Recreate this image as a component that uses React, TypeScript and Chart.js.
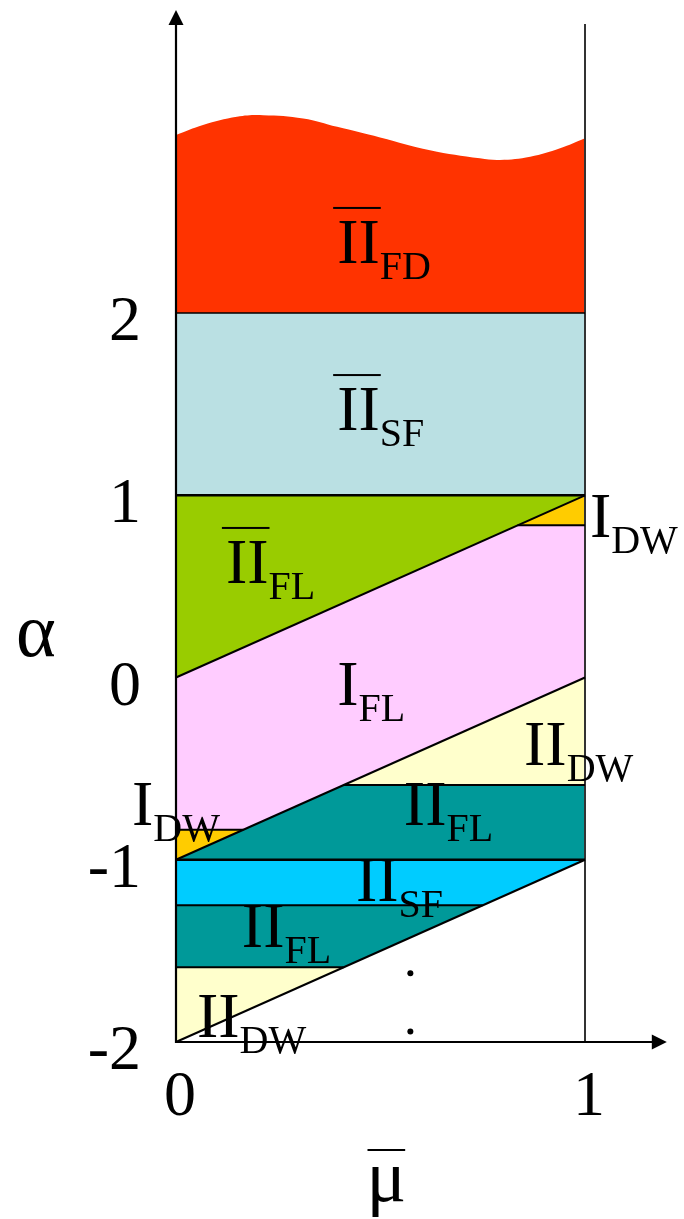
import { useEffect, useRef } from "react";
import { Chart, registerables } from "chart.js";

Chart.register(...registerables);

const W = 684;
const H = 1219;

// Axis ranges
const MU_MIN = 0;
const MU_MAX = 1.2;
const ALPHA_MIN = -2;
const ALPHA_MAX = 3.663;

// Tick labels
const ALPHA_TICKS = [-2, -1, 0, 1, 2];
const MU_TICKS = [0, 1];

// Upper (wavy) edge of the FD phase
const FD_WAVE_MU = [0, 0.066, 0.149, 0.213, 0.311, 0.394, 0.499, 0.621, 0.743, 0.792, 0.866, 0.939, 1];
const FD_WAVE_ALPHA = [2.977, 3.032, 3.077, 3.086, 3.068, 3.022, 2.964, 2.894, 2.849, 2.84, 2.858, 2.904, 2.959];

// Phase boundaries
const A_TOP_DW = 0.835;
const A_BOT_DW = -0.835;
const A_DW2 = -0.59;
const A_SF2 = -1.25;
const A_FL2 = -1.59;

// Region polygons (μ̄ values, α values)
const SF_BAR_MU = [0, 1, 1, 0];
const SF_BAR_ALPHA = [1, 1, 2, 2];
const FL_BAR_MU = [0, 1, 0];
const FL_BAR_ALPHA = [0, 1, 1];
const DW1_TOP_MU = [A_TOP_DW, 1, 1];
const DW1_TOP_ALPHA = [A_TOP_DW, A_TOP_DW, 1];
const FL1_MU = [0, A_TOP_DW, 1, 1, A_BOT_DW + 1, 0];
const FL1_ALPHA = [0, A_TOP_DW, A_TOP_DW, 0, A_BOT_DW, A_BOT_DW];
const DW1_BOT_MU = [0, A_BOT_DW + 1, 0];
const DW1_BOT_ALPHA = [-1, A_BOT_DW, A_BOT_DW];
const DW2_TOP_MU = [A_DW2 + 1, 1, 1];
const DW2_TOP_ALPHA = [A_DW2, 0, A_DW2];
const FL2_TOP_MU = [0, A_DW2 + 1, 1, 1];
const FL2_TOP_ALPHA = [-1, A_DW2, A_DW2, -1];
const SF2_MU = [0, 1, A_SF2 + 2, 0];
const SF2_ALPHA = [-1, -1, A_SF2, A_SF2];
const FL2_BOT_MU = [0, A_SF2 + 2, A_FL2 + 2, 0];
const FL2_BOT_ALPHA = [A_SF2, A_SF2, A_FL2, A_FL2];
const DW2_BOT_MU = [0, A_FL2 + 2, 0];
const DW2_BOT_ALPHA = [A_FL2, A_FL2, -2];

// Ellipsis dots
const DOTS_MU = [0.573, 0.573];
const DOTS_ALPHA = [-1.623, -1.942];

const COLORS = {
  fd: "#ff3300",
  sfBar: "#bae0e3",
  flBar: "#99cc00",
  dw1: "#ffcc00",
  fl1: "#ffccff",
  dw2: "#ffffcc",
  fl2: "#009999",
  sf2: "#00ccff",
};

const SERIF = '"Liberation Serif", "Times New Roman", serif';

type Pt = { x: number; y: number };
const zip = (mu: number[], al: number[]): Pt[] => mu.map((m, i) => ({ x: m, y: al[i] }));

const regions: { mu: number[]; alpha: number[]; color: string }[] = [
  { mu: SF_BAR_MU, alpha: SF_BAR_ALPHA, color: COLORS.sfBar },
  { mu: FL_BAR_MU, alpha: FL_BAR_ALPHA, color: COLORS.flBar },
  { mu: FL1_MU, alpha: FL1_ALPHA, color: COLORS.fl1 },
  { mu: DW1_TOP_MU, alpha: DW1_TOP_ALPHA, color: COLORS.dw1 },
  { mu: DW1_BOT_MU, alpha: DW1_BOT_ALPHA, color: COLORS.dw1 },
  { mu: DW2_TOP_MU, alpha: DW2_TOP_ALPHA, color: COLORS.dw2 },
  { mu: FL2_TOP_MU, alpha: FL2_TOP_ALPHA, color: COLORS.fl2 },
  { mu: SF2_MU, alpha: SF2_ALPHA, color: COLORS.sf2 },
  { mu: FL2_BOT_MU, alpha: FL2_BOT_ALPHA, color: COLORS.fl2 },
  { mu: DW2_BOT_MU, alpha: DW2_BOT_ALPHA, color: COLORS.dw2 },
];

// Boundary segments: [μ1, α1, μ2, α2, width, color]
const boundaries: [number, number, number, number, number, string][] = [
  [0, 2, 1, 2, 1.6, "#000"],
  [0, 1, 1, 1, 2.6, "#000"],
  [0, 0, 1, 1, 2, "#000"],
  [A_TOP_DW, A_TOP_DW, 1, A_TOP_DW, 2, "#000"],
  [0, -1, 1, 0, 2, "#000"],
  [0, A_BOT_DW, A_BOT_DW + 1, A_BOT_DW, 2, "#000"],
  [A_DW2 + 1, A_DW2, 1, A_DW2, 2, "#000"],
  [0, -1, 1, -1, 2.4, "#000"],
  [0, -2, 1, -1, 2, "#000"],
  [0, A_SF2, A_SF2 + 2, A_SF2, 2, "#000"],
  [0, A_FL2, A_FL2 + 2, A_FL2, 2, "#000"],
  [1, -2, 1, 3.586, 2, "#333"],
];

// Phase labels: main symbol, subscript, overline, anchor (μ̄, α) at text baseline start
const LABELS: { main: string; sub: string; bar: boolean; mu: number; alpha: number }[] = [
  { main: "II", sub: "FD", bar: true, mu: 0.394, alpha: 2.275 },
  { main: "II", sub: "SF", bar: true, mu: 0.394, alpha: 1.358 },
  { main: "II", sub: "FL", bar: true, mu: 0.122, alpha: 0.519 },
  { main: "I", sub: "DW", bar: false, mu: 1.012, alpha: 0.771 },
  { main: "I", sub: "FL", bar: false, mu: 0.394, alpha: -0.151 },
  { main: "II", sub: "DW", bar: false, mu: 0.851, alpha: -0.48 },
  { main: "I", sub: "DW", bar: false, mu: -0.1076, alpha: -0.809 },
  { main: "II", sub: "FL", bar: false, mu: 0.557, alpha: -0.809 },
  { main: "II", sub: "SF", bar: false, mu: 0.44, alpha: -1.226 },
  { main: "II", sub: "FL", bar: false, mu: 0.161, alpha: -1.479 },
  { main: "II", sub: "DW", bar: false, mu: 0.0513, alpha: -1.973 },
];

const decor = {
  id: "phaseDecor",
  afterDatasetsDraw(chart: any) {
    const ctx: CanvasRenderingContext2D = chart.ctx;
    const xs = chart.scales.x;
    const ys = chart.scales.y;
    const px = (v: number) => xs.getPixelForValue(v);
    const py = (v: number) => ys.getPixelForValue(v);
    const x0 = px(0);
    const yBase = py(ALPHA_MIN);
    const yTip = py(ALPHA_MAX);
    const xTip = px(MU_MAX);

    ctx.save();
    ctx.strokeStyle = "#000";
    ctx.fillStyle = "#000";
    ctx.lineWidth = 2.2;
    // vertical axis with arrow
    ctx.beginPath();
    ctx.moveTo(x0, yBase + 1);
    ctx.lineTo(x0, yTip + 12);
    ctx.stroke();
    ctx.beginPath();
    ctx.moveTo(x0, yTip);
    ctx.lineTo(x0 - 7.5, yTip + 15);
    ctx.lineTo(x0 + 7.5, yTip + 15);
    ctx.closePath();
    ctx.fill();
    // horizontal axis with arrow
    ctx.lineWidth = 2;
    ctx.beginPath();
    ctx.moveTo(x0 - 1, yBase);
    ctx.lineTo(xTip - 12, yBase);
    ctx.stroke();
    ctx.beginPath();
    ctx.moveTo(xTip, yBase);
    ctx.lineTo(xTip - 15, yBase - 7.5);
    ctx.lineTo(xTip - 15, yBase + 7.5);
    ctx.closePath();
    ctx.fill();

    // tick labels
    ctx.font = `64px ${SERIF}`;
    ctx.textBaseline = "alphabetic";
    ctx.textAlign = "right";
    ALPHA_TICKS.forEach((t) => ctx.fillText(String(t), x0 - 35, py(t) + 27));
    ctx.textAlign = "center";
    MU_TICKS.forEach((t) => ctx.fillText(String(t), px(t) + 4, yBase + 73));

    // axis titles
    ctx.textAlign = "left";
    ctx.font = `76px ${SERIF}`;
    ctx.fillText("α", 16, 656);
    ctx.font = `74px ${SERIF}`;
    const muX = px(0.5) - 14;
    ctx.fillText("μ", muX, 1201);
    const muW = ctx.measureText("μ").width;
    ctx.fillRect(muX + 1, 1149, muW - 2, 2);

    // phase labels
    LABELS.forEach((l) => {
      const x = px(l.mu);
      const y = py(l.alpha);
      ctx.font = `64px ${SERIF}`;
      ctx.fillText(l.main, x, y);
      const w = ctx.measureText(l.main).width;
      if (l.bar) ctx.fillRect(x - 4, y - 56, w + 5, 2);
      ctx.font = `40px ${SERIF}`;
      ctx.fillText(l.sub, x + w, y + 16);
    });
    ctx.restore();
  },
};

export default function App() {
  const ref = useRef<HTMLCanvasElement>(null);

  useEffect(() => {
    const datasets: any[] = [];

    datasets.push({
      data: zip(DOTS_MU, DOTS_ALPHA),
      showLine: false,
      pointRadius: 3,
      pointBackgroundColor: "#000",
      pointBorderWidth: 0,
      order: 0,
    });

    boundaries.forEach(([m1, a1, m2, a2, w, c]) => {
      datasets.push({
        data: [
          { x: m1, y: a1 },
          { x: m2, y: a2 },
        ],
        borderColor: c,
        borderWidth: w,
        pointRadius: 0,
        fill: false,
        tension: 0,
        clip: false,
        order: 1,
      });
    });

    regions.forEach((r) => {
      datasets.push({
        data: zip(r.mu, r.alpha),
        backgroundColor: r.color,
        borderColor: "rgba(0,0,0,0)",
        borderWidth: 0,
        pointRadius: 0,
        fill: "shape",
        tension: 0,
        order: 2,
      });
    });

    datasets.push({
      data: zip(FD_WAVE_MU, FD_WAVE_ALPHA),
      backgroundColor: COLORS.fd,
      borderColor: "rgba(0,0,0,0)",
      borderWidth: 0,
      pointRadius: 0,
      fill: { value: 2 },
      tension: 0.4,
      order: 3,
    });

    const chart = new Chart(ref.current as HTMLCanvasElement, {
      type: "line",
      data: { datasets },
      options: {
        responsive: false,
        animation: false,
        events: [],
        layout: { padding: { left: 176, right: W - 176 - 409 * MU_MAX, top: 10, bottom: H - 1042 } },
        scales: {
          x: { type: "linear", min: MU_MIN, max: MU_MAX, display: false },
          y: { type: "linear", min: ALPHA_MIN, max: ALPHA_MAX, display: false },
        },
        plugins: { legend: { display: false }, tooltip: { enabled: false } },
      },
      plugins: [decor],
    });
    return () => chart.destroy();
  }, []);

  return (
    <div style={{ position: "fixed", left: 0, top: 0, width: W, height: H, background: "#fff" }}>
      <canvas ref={ref} width={W} height={H} style={{ display: "block", width: W, height: H }} />
    </div>
  );
}
